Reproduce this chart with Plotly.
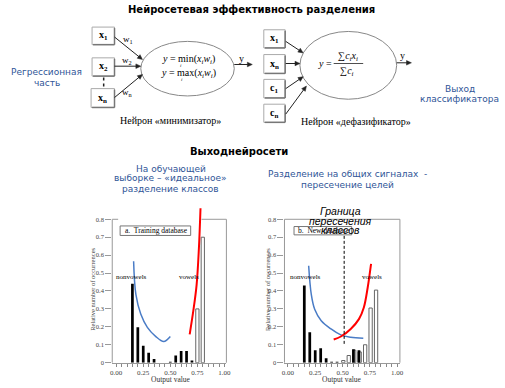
import math
import plotly.graph_objects as go

W, H = 505, 388

# ---------------- data ----------------
bins = [0.15, 0.20, 0.25, 0.30, 0.35, 0.40, 0.45, 0.50, 0.55, 0.60, 0.65, 0.70, 0.75, 0.80]
left_nonvowels = [0.44, 0.197, 0.095, 0.055, 0.02, 0, 0, 0.004, 0.04, 0.065, 0.065, 0.012, 0, 0]
left_vowels = [0, 0, 0, 0, 0, 0, 0, 0, 0, 0, 0, 0, 0.30, 0.70]
right_nonvowels = [0.43, 0.17, 0.07, 0.08, 0.025, 0.005, 0.005, 0, 0, 0.075, 0.07, 0, 0, 0]
right_vowels = [0, 0, 0, 0, 0, 0, 0, 0.012, 0.04, 0.07, 0.06, 0.10, 0.305, 0.405]

left_blue_x = [0.161, 0.182, 0.227, 0.288, 0.364, 0.439, 0.50]
left_blue_y = [0.566, 0.381, 0.271, 0.197, 0.147, 0.118, 0.146]
left_red_x = [0.679, 0.712, 0.743, 0.764, 0.779]
left_red_y = [0.158, 0.287, 0.434, 0.637, 0.862]

right_blue_x = [0.19, 0.214, 0.245, 0.305, 0.395, 0.485, 0.575, 0.69]
right_blue_y = [0.541, 0.381, 0.298, 0.234, 0.188, 0.155, 0.142, 0.136]
right_red_x = [0.419, 0.485, 0.575, 0.65, 0.695, 0.73, 0.761]
right_red_y = [0.129, 0.146, 0.188, 0.243, 0.308, 0.418, 0.551]

boundary_x = [0.515, 0.515]
boundary_y = [0.105, 0.74]

x_tickvals = [0, 0.25, 0.5, 0.75, 1.0]
x_ticktext = ["0.00", "0.25", "0.50", "0.75", "1.00"]
y_tickvals = [0, 0.1, 0.2, 0.3, 0.4, 0.5, 0.6, 0.7, 0.8]
y_ticktext = ["0", "0.1", "0.2", "0.3", "0.4", "0.5", "0.6", "0.7", "0.8"]

# ---------------- helpers ----------------
def X(px):
    return px / W

def Y(py):
    return 1 - py / H

SERIF = "Liberation Serif"
SANS = "DejaVu Sans"
BLUE_TXT = "#2F5597"
BLUE_LINE = "#4a7cc6"

annotations = []
shapes = []

def text(t, px, py, size, color="black", family=SERIF, xanchor="center", italic=False, angle=0):
    annotations.append(dict(
        text=t, x=X(px), y=Y(py), xref="paper", yref="paper",
        showarrow=False, xanchor=xanchor, yanchor="middle", textangle=angle,
        font=dict(size=size, color=color, family=family,
                  style="italic" if italic else "normal"),
    ))

def line(x0, y0, x1, y1, color="#999", width=1, dash="solid"):
    shapes.append(dict(type="line", xref="paper", yref="paper",
                       x0=X(x0), y0=Y(y0), x1=X(x1), y1=Y(y1),
                       line=dict(color=color, width=width, dash=dash)))

def arrow(x0, y0, x1, y1, color="#222"):
    dx, dy = x1 - x0, y1 - y0
    d = math.hypot(dx, dy)
    ux, uy = dx / d, dy / d
    L, hw = 5.0, 2.3
    bx, by = x1 - ux * L, y1 - uy * L
    line(x0, y0, bx + ux * 0.5, by + uy * 0.5, color=color, width=1)
    p1 = (bx - uy * hw, by + ux * hw)
    p2 = (bx + uy * hw, by - ux * hw)
    path = "M {} {} L {} {} L {} {} Z".format(X(x1), Y(y1), X(p1[0]), Y(p1[1]), X(p2[0]), Y(p2[1]))
    shapes.append(dict(type="path", xref="paper", yref="paper", path=path,
                       fillcolor=color, line=dict(color=color, width=0.5)))

def rect(x0, y0, x1, y1, color="#999", width=1, fill="white"):
    shapes.append(dict(type="rect", xref="paper", yref="paper",
                       x0=X(x0), y0=Y(y0), x1=X(x1), y1=Y(y1),
                       line=dict(color=color, width=width), fillcolor=fill))

def node_box(x0, y0, x1, y1, label):
    rect(x0, y0, x1, y1, color="#aaa", width=1)
    line(x1, y0 + 1, x1, y1, color="#777", width=1.5)
    line(x0 + 1, y1, x1, y1, color="#777", width=1.5)
    text("<b>" + label + "</b>", (x0 + x1) / 2, (y0 + y1) / 2, 10)

def ellipse(x0, y0, x1, y1):
    shapes.append(dict(type="circle", xref="paper", yref="paper",
                       x0=X(x0), y0=Y(y0), x1=X(x1), y1=Y(y1),
                       line=dict(color="#888", width=1)))

# ---------------- figure ----------------
fig = go.Figure()

def add_bars(xs, ys, axis_x, axis_y, black, width, offset=None):
    px_ = [b for b, v in zip(xs, ys) if v > 0]
    py_ = [v for v in ys if v > 0]
    if black:
        marker = dict(color="black", line=dict(width=0))
    else:
        marker = dict(color="white", line=dict(color="#666", width=1))
    fig.add_trace(go.Bar(x=px_, y=py_, width=width, offset=offset, marker=marker,
                         xaxis=axis_x, yaxis=axis_y, hoverinfo="skip"))

# left chart
add_bars(bins, left_vowels, "x", "y", False, 0.03)
add_bars(bins, left_nonvowels, "x", "y", True, 0.025)
fig.add_trace(go.Scatter(x=left_blue_x, y=left_blue_y, mode="lines", line=dict(color=BLUE_LINE, width=1.5, shape="spline"),
                         xaxis="x", yaxis="y", hoverinfo="skip"))
fig.add_trace(go.Scatter(x=left_red_x, y=left_red_y, mode="lines", line=dict(color="red", width=2, shape="spline"),
                         xaxis="x", yaxis="y", hoverinfo="skip"))

# right chart
add_bars(bins, right_vowels, "x2", "y2", False, 0.03, offset=-0.008)
add_bars(bins, right_nonvowels, "x2", "y2", True, 0.025)
fig.add_trace(go.Scatter(x=right_blue_x, y=right_blue_y, mode="lines", line=dict(color=BLUE_LINE, width=1.5, shape="spline"),
                         xaxis="x2", yaxis="y2", hoverinfo="skip"))
fig.add_trace(go.Scatter(x=right_red_x, y=right_red_y, mode="lines", line=dict(color="red", width=2, shape="spline"),
                         xaxis="x2", yaxis="y2", hoverinfo="skip"))
fig.add_trace(go.Scatter(x=boundary_x, y=boundary_y, mode="lines", line=dict(color="black", width=1, dash="3px,2px"),
                         xaxis="x2", yaxis="y2", hoverinfo="skip"))

# chart geometry (pixels)
Y0PX, Y8PX = 365.5, 221.0
pxper = (Y0PX - Y8PX) / 0.8
YTOP = Y0PX - 0.87 * pxper
ydom = [Y(Y0PX), Y(YTOP)]
L1, R1 = 111, 227
L2, R2 = 286, 403.3

def xax(dom, rng):
    return dict(domain=dom, range=rng, showline=True, linecolor="#999", linewidth=1,
                tickvals=x_tickvals, ticktext=x_ticktext, ticks="outside", ticklen=3,
                tickcolor="#888", tickwidth=1,
                minor=dict(dtick=0.05, tick0=0, ticks="outside", ticklen=3, tickcolor="#888"),
                tickfont=dict(family=SERIF, size=7, color="#444"),
                showgrid=False, zeroline=False, fixedrange=True)

def yax(anchor):
    return dict(domain=ydom, range=[0, 0.87], showline=False, anchor=anchor,
                tickvals=y_tickvals, ticktext=y_ticktext, ticks="outside", ticklen=6,
                tickcolor="#999", tickfont=dict(family=SERIF, size=6.5, color="#444"),
                showgrid=False, zeroline=False, fixedrange=True)

fig.update_layout(
    width=W, height=H, margin=dict(l=0, r=0, t=0, b=0),
    paper_bgcolor="white", plot_bgcolor="rgba(0,0,0,0)",
    showlegend=False, barmode="overlay",
    xaxis=dict(xax([X(L1), X(R1)], [(L1 - 115) / 110, (R1 - 115) / 110]), anchor="y"),
    yaxis=yax("x"),
    xaxis2=dict(xax([X(L2), X(R2)], [(L2 - 289.5) / 111, (R2 - 289.5) / 111]), anchor="y2"),
    yaxis2=yax("x2"),
)

# frames
line(L1, Y8PX, L1, Y0PX)
line(R1, Y8PX, R1, Y0PX)
line(L1, Y8PX, 117, Y8PX)
line(201.7, Y8PX, R1, Y8PX)
line(L2, Y8PX, L2, Y0PX)
line(R2, Y8PX, R2, Y0PX)
line(L2, Y8PX, R2, Y8PX)

# chart texts
for cx in [(L1 + R1) / 2 + 2, (L2 + R2) / 2]:
    text("Output value", cx, 382, 7.5, color="#333")
text("Relative number of occurrences", 91.5, 292, 6.5, color="#444", angle=-90)
text("Relative number of occurrences", 268.5, 292, 6.5, color="#444", angle=-90)

text("nonvowels", 131, 279.3, 7)
text("vowels", 189.3, 279.3, 7)
text("nonvowels", 307, 279.3, 7)
text("vowels", 375, 279.3, 7)

rect(119, 227.7, 190.7, 237.3, color="#777", width=1)
text("a.  Training database", 121.5, 232.5, 7.5, xanchor="left")
rect(295.7, 228.3, 354.3, 236.7, color="#777", width=1)
text("b.  New database", 298, 232.5, 7.5, xanchor="left")

text("Граница", 343, 212.7, 10.5, family="Liberation Sans", italic=True)
text("пересечения", 343, 222.3, 10.5, family="Liberation Sans", italic=True)
text("классов", 343, 231.7, 10.5, family="Liberation Sans", italic=True)

# titles
text("<b>Нейросетевая эффективность разделения</b>", 252, 10, 10, family=SANS)
text("<b>Выходнейросети</b>", 240, 152.7, 10, family=SANS)

text("Регрессионная", 43.7, 72.7, 9, color=BLUE_TXT, family=SANS)
text("часть", 45, 83.3, 9, color=BLUE_TXT, family=SANS)
text("Выход", 464, 90, 9, color=BLUE_TXT, family=SANS)
text("классификатора", 464.2, 100, 9, color=BLUE_TXT, family=SANS)

text("На обучающей", 170.7, 170, 9, color=BLUE_TXT, family=SANS)
text("выборке – «идеальное»", 170.7, 179.5, 9, color=BLUE_TXT, family=SANS)
text("разделение классов", 170.7, 190, 9, color=BLUE_TXT, family=SANS)
text("Разделение на общих сигналах\u00a0\u00a0-", 350, 175.7, 9, color=BLUE_TXT, family=SANS)
text("пересечение целей", 350, 186, 9, color=BLUE_TXT, family=SANS)

# ---------------- left diagram ----------------
node_box(90.5, 27.3, 113.3, 45, "x<sub>1</sub>")
node_box(90.5, 58.3, 113.3, 76.7, "x<sub>2</sub>")
node_box(89.5, 89.3, 113.3, 108.3, "x<sub>n</sub>")
line(102.3, 78, 102.3, 88.5, color="#222", width=1.5, dash="dot")
ellipse(140, 41.7, 235, 96.7)
arrow(113.3, 37.3, 141.7, 60)
arrow(113.3, 66.7, 140, 66.7)
arrow(113.3, 98.3, 141.7, 75)
text("w<sub>1</sub>", 126.7, 39.5, 9)
text("w<sub>2</sub>", 126, 61, 9)
text("w<sub>n</sub>", 126, 93.3, 9)
text("<i>y</i> = min(<i>x<sub>i</sub>w<sub>i</sub></i>)", 188, 59.5, 10)
text("<i>y</i> = max(<i>x<sub>i</sub>w<sub>i</sub></i>)", 188.7, 74, 10)
text("<i>i</i>", 180.5, 66, 5)
text("<i>i</i>", 181.5, 80.5, 5)
arrow(235, 65, 253.3, 65)
text("y", 242.7, 58.5, 10)
text("Нейрон «минимизатор»", 170, 121.7, 10)

# ---------------- right diagram ----------------
node_box(265, 30, 286.7, 48.3, "x<sub>1</sub>")
node_box(265, 55, 286.7, 74, "x<sub>n</sub>")
node_box(265, 80, 286.7, 98.7, "c<sub>1</sub>")
node_box(265, 105, 286.7, 123.3, "c<sub>n</sub>")
ellipse(301.7, 31.7, 400, 100)
arrow(287.3, 41.7, 305, 53.3)
arrow(287.3, 64, 301.7, 64)
arrow(287.3, 89.3, 305, 77.3)
arrow(287.3, 115, 308.3, 86.7)
text("<i>y</i> =", 327, 64, 10)
text("∑<i>c<sub>i</sub>x<sub>i</sub></i>", 351, 57, 10)
line(336, 64, 366, 64, color="#222", width=0.8)
text("∑<i>c<sub>i</sub></i>", 349.5, 71.7, 10)
arrow(400, 63.3, 415, 63.3)
text("y", 406, 56, 10)
text("Нейрон «дефазификатор»", 358.3, 122.7, 10)

fig.update_layout(annotations=annotations, shapes=shapes)
fig.write_html("out.html", config={"displayModeBar": False},
               post_script="document.body.style.margin='0';document.body.style.overflow='hidden';")
